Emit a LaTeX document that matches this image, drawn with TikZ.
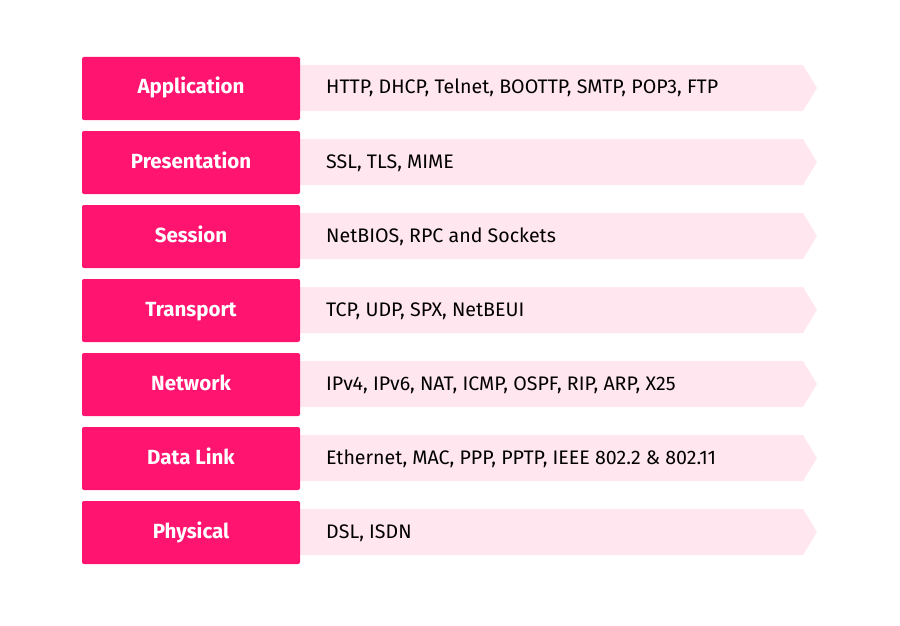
\documentclass[tikz,border=0pt]{standalone}
\usepackage{fontspec}
\setmainfont{Fira Sans}
\definecolor{hot}{HTML}{FF1470}
\definecolor{soft}{HTML}{FFE6EF}
\tikzset{
  layer/.style={fill=hot, rounded corners=2pt, minimum width=218pt, minimum height=63pt, inner sep=0pt, text height=15pt, text depth=4pt, text=white, font=\fontsize{20.5}{24}\selectfont\bfseries},
  proto/.style={font=\fontsize{19.6}{23}\selectfont, text=black, anchor=base west, inner sep=0pt},
}
\begin{document}
\begin{tikzpicture}[x=1pt,y=-1pt]
\useasboundingbox (0,0) rectangle (900,626);
\foreach \i/\name/\prot in {0/Application/{HTTP, DHCP, Telnet, BOOTTP, SMTP, POP3, FTP},
  1/Presentation/{SSL, TLS, MIME},
  2/Session/{NetBIOS, RPC and Sockets},
  3/Transport/{TCP, UDP, SPX, NetBEUI},
  4/Network/{IPv4, IPv6, NAT, ICMP, OSPF, RIP, ARP, X25},
  5/Data Link/{Ethernet, MAC, PPP, PPTP, IEEE 802.2 \& 802.11},
  6/Physical/{DSL, ISDN}} {
  \pgfmathsetmacro{\yt}{57+74*\i}
  \fill[soft] (300,\yt+8) -- (803,\yt+8) -- (817,\yt+31) -- (803,\yt+54) -- (300,\yt+54) -- cycle;
  \node[layer] (L\i) at (191,\yt+31.5) {\name};
  \node[proto] (P\i) at (326,\yt+37) {\prot};
}
\end{tikzpicture}
\end{document}
